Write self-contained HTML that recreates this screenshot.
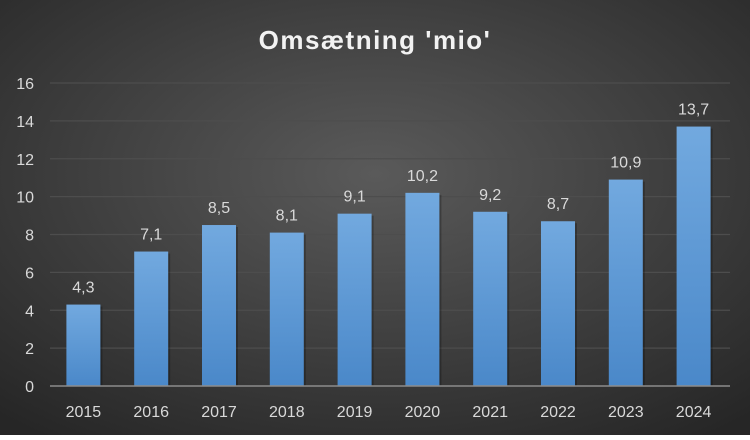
<!DOCTYPE html>
<html><head><meta charset="utf-8"><style>
body{margin:0;width:750px;height:435px;overflow:hidden;font-family:"Liberation Sans",sans-serif}
</style></head><body>
<svg id="c" width="750" height="435" xmlns="http://www.w3.org/2000/svg">
<defs>
<radialGradient id="bg" cx="50%" cy="40%" r="75%">
<stop offset="0" stop-color="#5a5a5a"/><stop offset="1" stop-color="#262626"/>
</radialGradient>
<linearGradient id="bar" x1="0" y1="0" x2="0" y2="1">
<stop offset="0" stop-color="#72a9df"/><stop offset="1" stop-color="#4a88c9"/>
</linearGradient>
</defs>
<rect width="750" height="435" fill="url(#bg)"/>
<text x="375" y="49" text-anchor="middle" fill="#f2f2f2" font-size="26" font-weight="bold" letter-spacing="1.5">Omsætning 'mio'</text>
<g id="grid"></g><g id="bars"></g>
</svg>
<script>
const categories=["2015","2016","2017","2018","2019","2020","2021","2022","2023","2024"];
const values=[4.3,7.1,8.5,8.1,9.1,10.2,9.2,8.7,10.9,13.7];
const labels=["4,3","7,1","8,5","8,1","9,1","10,2","9,2","8,7","10,9","13,7"];
const ticks=[0,2,4,6,8,10,12,14,16];
const ns="http://www.w3.org/2000/svg";
const x0=50,x1=728,yBase=386,yTop=83,yMax=16;
const y=v=>yBase-(v/yMax)*(yBase-yTop);
const step=(x1-x0)/categories.length;
const xc=i=>x0+step*(i+0.5)-0.5;
const g=document.getElementById('grid'),b=document.getElementById('bars');
function mk(t,a,p){const e=document.createElementNS(ns,t);for(const k in a)e.setAttribute(k,a[k]);p.appendChild(e);return e;}
ticks.forEach(t=>{
 if(t>0){const l=mk('line',{x1:x0,x2:730,y1:y(t),y2:y(t),stroke:'#4d4d4d','stroke-width':1.3},g);
 
 }
 const tx=mk('text',{x:34,y:y(t)+6,'text-anchor':'end',fill:'#d9d9d9','font-size':16},g);tx.textContent=t;
 
 
});
categories.forEach((c,i)=>{
 const w=34,h=yBase-y(values[i]);
 const sh=mk('rect',{x:xc(i)-w/2+2,y:y(values[i])+2,width:w,height:h-2,fill:'#000',opacity:0.25},b);
 
 
 const r=mk('rect',{x:xc(i)-w/2,y:y(values[i]),width:w,height:h,fill:'url(#bar)'},b);
 
 
 const v=mk('text',{x:xc(i),y:y(values[i])-12,'text-anchor':'middle',fill:'#d9d9d9','font-size':16},b);v.textContent=labels[i];
 
 
 const xl=mk('text',{x:xc(i),y:417,'text-anchor':'middle',fill:'#d9d9d9','font-size':16},b);xl.textContent=c;
 
 
});
const ax=mk('line',{x1:x0,x2:730,y1:yBase,y2:yBase,stroke:'#8c8c8c','stroke-width':1.5},b);


</script>
</body></html>
